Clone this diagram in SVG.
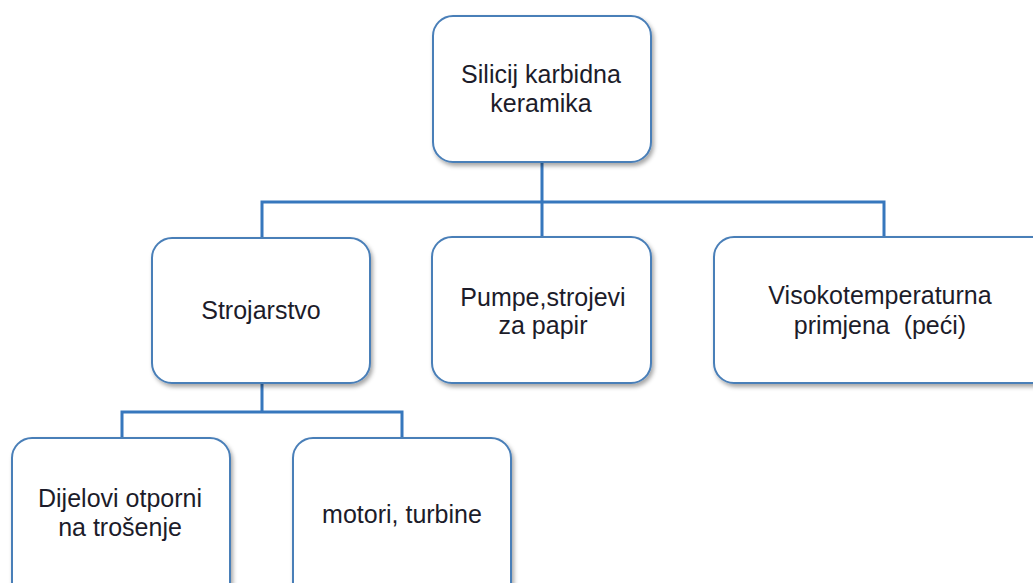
<svg xmlns="http://www.w3.org/2000/svg" width="1033" height="583" viewBox="0 0 1033 583">
<defs>
<filter id="sh" x="-10%" y="-10%" width="130%" height="130%">
<feDropShadow dx="2" dy="3" stdDeviation="2" flood-color="#000" flood-opacity="0.35"/>
</filter>
<style>
.box{fill:#fff;stroke:#4a7fb8;stroke-width:2;filter:url(#sh)}
.lbl{font-family:"Liberation Sans",Arial,sans-serif;font-size:25px;fill:#1c1c2a;text-anchor:middle}
.con{fill:none;stroke:#3777bd;stroke-width:3}
</style>
</defs>
<rect width="1033" height="583" fill="#fff"/>
<g id="connectors">
<path class="con" d="M542 162 V202 M262 240 V202 H884 V238 M542 202 V237"/>
<path class="con" d="M262 383 V412 M122 438 V412 H402 V438"/>
</g>
<g id="n-root">
<rect class="box" x="433" y="16" width="218" height="146" rx="20"/>
<text class="lbl" x="541" y="83">Silicij karbidna</text>
<text class="lbl" x="541" y="112">keramika</text>
</g>
<g id="n-strojarstvo">
<rect class="box" x="152" y="238" width="218" height="145" rx="20"/>
<text class="lbl" x="261" y="319">Strojarstvo</text>
</g>
<g id="n-pumpe">
<rect class="box" x="432" y="237" width="219" height="146" rx="20"/>
<text class="lbl" x="543" y="306">Pumpe,strojevi</text>
<text class="lbl" x="543" y="334">za papir</text>
</g>
<g id="n-visoko">
<rect class="box" x="714" y="237" width="340" height="146" rx="20"/>
<text class="lbl" x="880" y="304">Visokotemperaturna</text>
<text class="lbl" x="880" y="334" xml:space="preserve">primjena  (peći)</text>
</g>
<g id="n-dijelovi">
<rect class="box" x="12" y="438" width="218" height="170" rx="20"/>
<text class="lbl" x="120" y="507">Dijelovi otporni</text>
<text class="lbl" x="120" y="536">na trošenje</text>
</g>
<g id="n-motori">
<rect class="box" x="293" y="438" width="218" height="170" rx="20"/>
<text class="lbl" x="402" y="523">motori, turbine</text>
</g>
</svg>
